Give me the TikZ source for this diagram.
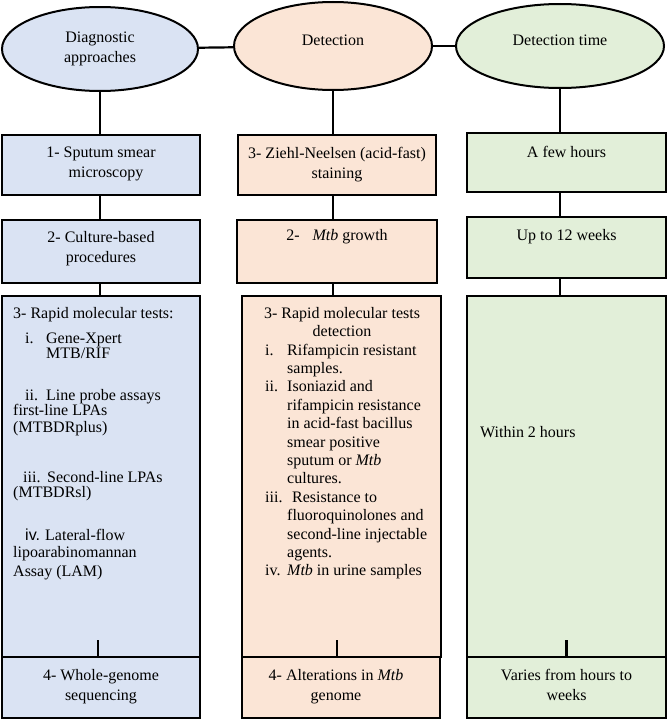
\documentclass[tikz,border=0pt]{standalone}
\usepackage{fontspec}
\setmainfont{Liberation Serif}
\newfontfamily\sansfont{Liberation Sans}
\usetikzlibrary{positioning,shapes.geometric}

\definecolor{appblue}{HTML}{DAE3F3}
\definecolor{detpink}{HTML}{FBE5D6}
\definecolor{timgreen}{HTML}{E2EFD9}

\newcommand{\itm}[2]{\makebox[#1][l]{#2}}
\newcommand{\tightlines}{\lineskiplimit=-100pt\relax}

\begin{document}
\begin{tikzpicture}[x=1pt, y=-1pt,
  font=\fontsize{16}{20}\selectfont,
  head/.style={ellipse,draw,line width=2pt,inner sep=0pt,align=center},
  stage/.style={rectangle,draw,line width=2.6pt,inner sep=0pt},
  appbox/.style={stage,fill=appblue,minimum width=198pt},
  detbox/.style={stage,fill=detpink,minimum width=199pt},
  timbox/.style={stage,fill=timgreen,minimum width=199pt},
  txt/.style={inner sep=0pt,align=center},
  ltxt/.style={inner sep=0pt,anchor=base west},
  link/.style={line width=2.2pt}]
  \useasboundingbox (0,0) rectangle (667,720);
  % Column headers
  \node[head,fill=appblue,minimum width=196pt,minimum height=84pt] (appH) at (100,49) {Diagnostic\\approaches};
  \node[head,fill=detpink,minimum width=198pt,minimum height=88pt,text depth=12pt] (detH) at (333,46) {Detection};
  \node[head,fill=timgreen,minimum width=208pt,minimum height=84pt,text depth=12pt] (timH) at (560,46) {Detection time};
  \draw[link] (appH) -- (detH);
  \draw[link] (detH) -- (timH);
  % Diagnostic approaches column
  \node[appbox,minimum height=60pt] (app1) at (101,165) {};
  \node[appbox,minimum height=63pt] (app2) at (101,251.5) {};
  \node[appbox,minimum height=361pt] (app3) at (101,476.5) {};
  \node[appbox,minimum height=61pt] (app4) at (101,687.5) {};
  % Detection column
  \node[detbox,minimum width=198pt,minimum height=60pt] (det1) at (337,165) {};
  \node[detbox,minimum width=200pt,minimum height=63pt] (det2) at (337,251.5) {};
  \node[detbox,minimum height=361pt] (det3) at (341.5,476.5) {};
  \node[detbox,minimum width=198pt,minimum height=61pt] (det4) at (341,687.5) {};
  % Detection time column
  \node[timbox,minimum height=59pt] (tim1) at (566.5,162.5) {};
  \node[timbox,minimum height=61pt] (tim2) at (566.5,247.5) {};
  \node[timbox,minimum height=361pt] (tim3) at (566.5,476.5) {};
  \node[timbox,minimum height=61pt] (tim4) at (566.5,687.5) {};
  % Links between header and boxes
  \draw[link] (appH.south) -- (appH.south |- app1.north);
  \draw[link] (detH.south) -- (detH.south |- det1.north);
  \draw[link] (timH.south) -- (timH.south |- tim1.north);
  \draw[link] (app1.south -| appH.south) -- (app2.north -| appH.south);
  \draw[link] (det1.south -| detH.south) -- (det2.north -| detH.south);
  \draw[link] (tim1.south -| timH.south) -- (tim2.north -| timH.south);
  \draw[link] (app2.south -| appH.south) -- (app3.north -| appH.south);
  \draw[link] (det2.south -| detH.south) -- (det3.north -| detH.south);
  \draw[link] (tim2.south -| timH.south) -- (tim3.north -| timH.south);
  \draw[link] ([xshift=-3pt]app4.north) -- ++(0,-16);
  \draw[link] ([xshift=-4pt]det4.north) -- ++(0,-16);
  \draw[link] (tim4.north) -- ++(0,-16);
  % Box texts
  \node[txt,below=13pt of app1.north] (app1t) {1- Sputum smear\\\hspace*{10pt}microscopy};
  \node[txt,below=12pt of app2.north] (app2t) {2- Culture-based\\procedures};
  \node[txt,below=13pt of app4.north] (app4t) {4- Whole-genome\\sequencing};
  \node[txt,below=13pt of det1.north] (det1t) {3- Ziehl-Neelsen (acid-fast)\\staining};
  \node[txt,below=10pt of det2.north] (det2t) {2-\hspace{13pt}\textit{Mtb} growth};
  \node[txt,below=13pt of det4.north,xshift=-5pt] (det4t) {4- Alterations in \textit{Mtb}\\genome};
  \node[txt,below=14pt of tim1.north] (tim1t) {A few hours};
  \node[txt,below=13pt of tim2.north] (tim2t) {Up to 12 weeks};
  \node[txt,below=13pt of tim4.north] (tim4t) {Varies from hours to\\weeks};
  % Rapid molecular tests
  \node[inner sep=0pt,anchor=north west,align=left,
        font={\fontsize{16}{13}\selectfont\tightlines}] (apL) at (13,307) {%
    3- Rapid molecular tests:\\[12pt]
    \hspace*{12pt}\itm{21pt}{i.}Gene-Xpert\\[2.5pt]
    \hspace*{33pt}MTB/RIF\\[28.5pt]
    \hspace*{12pt}\itm{21pt}{ii.}Line probe assays\\[2.5pt]
    first-line LPAs\\[3.5pt]
    (MTBDRplus)\\[37pt]
    \hspace*{10pt}\itm{24pt}{iii.}Second-line LPAs\\[2.5pt]
    (MTBDRsl)\\[29.5pt]
    \hspace*{12pt}\itm{20pt}{\sansfont iv.}Lateral-flow\\[4pt]
    lipoarabinomannan\\[6pt]
    Assay (LAM)};
  \node[txt,anchor=north,font=\fontsize{16}{18.4}\selectfont] (dtH) at (342,307) {3- Rapid molecular tests\\detection};
  \node[ltxt,font=\fontsize{16}{18.4}\selectfont] (dtL) at (265,355) {%
    \begin{tabular}[t]{@{}p{22pt}@{}l@{}}
      i.   & Rifampicin resistant\\
           & samples.\\
      ii.  & Isoniazid and\\
           & rifampicin resistance\\
           & in acid-fast bacillus\\
           & smear positive\\
           & sputum or \textit{Mtb}\\
           & cultures.\\
      iii. & \hspace{5pt}Resistance to\\
           & fluoroquinolones and\\
           & second-line injectable\\
           & agents.\\
      iv.  & \textit{Mtb} in urine samples
    \end{tabular}};
  \node[ltxt] (tm3) at (480,437) {Within 2 hours};
\end{tikzpicture}
\end{document}
